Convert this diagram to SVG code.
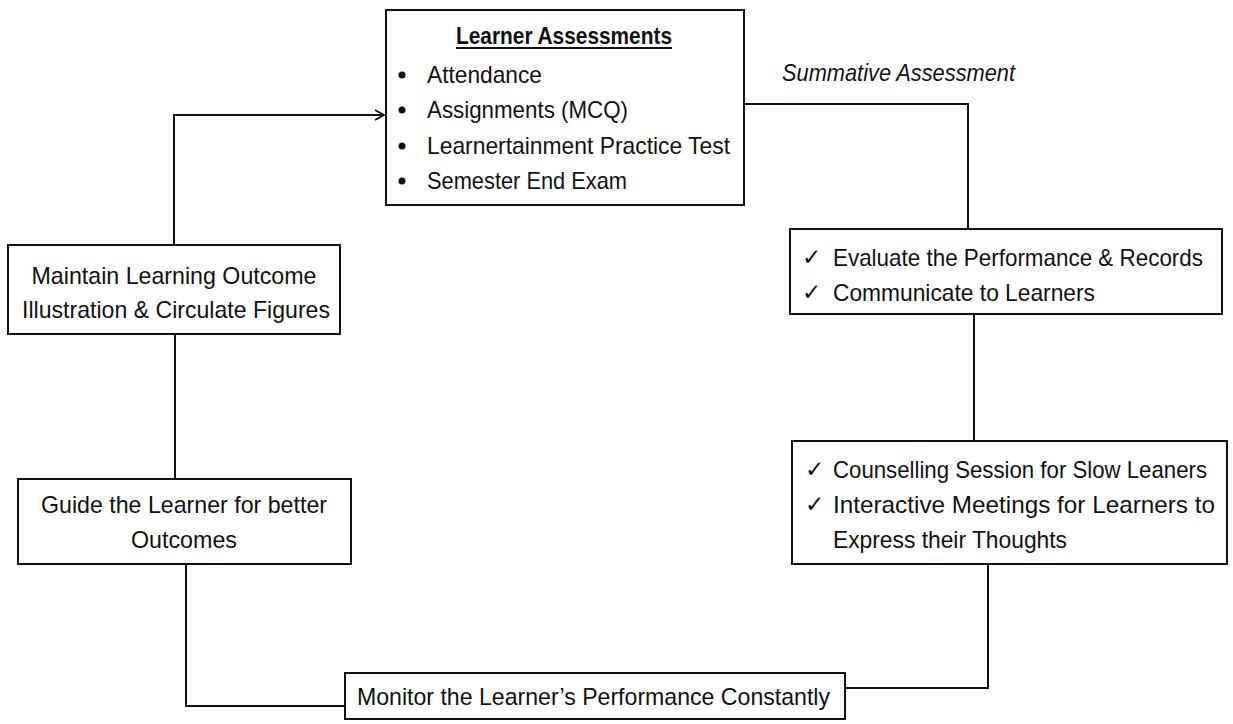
<svg xmlns="http://www.w3.org/2000/svg" width="1233" height="724" viewBox="0 0 1233 724">
<defs>
<style>
.box{fill:#fff;stroke:#111;stroke-width:2}
.con{fill:none;stroke:#111;stroke-width:2}
text{font-family:"Liberation Sans",Arial,sans-serif;font-size:24px;fill:#111}
.c{text-anchor:middle}
.b{font-weight:bold}
.i{font-style:italic}
.chk{font-family:"DejaVu Sans",sans-serif;font-size:23px;font-weight:bold}
</style>
<marker id="arr" markerWidth="12" markerHeight="12" refX="10" refY="6" orient="auto" markerUnits="userSpaceOnUse">
<path d="M1,1 L10,6 L1,11" fill="none" stroke="#111" stroke-width="1.8"/>
</marker>
</defs>
<rect width="1233" height="724" fill="#fff"/>
<g id="connectors">
<path class="con" d="M174,245 V115 H384" marker-end="url(#arr)"/>
<path class="con" d="M744,104 H968 V229"/>
<path class="con" d="M974,314 V441"/>
<path class="con" d="M988,564 V688 H845"/>
<path class="con" d="M345,706 H186 V564"/>
<path class="con" d="M175,479 V334"/>
</g>
<g id="learner-assessments">
<rect class="box" x="386" y="10" width="358" height="195"/>
<text class="b c" x="564" y="44" textLength="216" lengthAdjust="spacingAndGlyphs">Learner Assessments</text>
<line x1="456" y1="48" x2="672" y2="48" stroke="#111" stroke-width="1.8"/>
<circle cx="402" cy="75" r="3.5" fill="#111"/>
<circle cx="402" cy="110" r="3.5" fill="#111"/>
<circle cx="402" cy="146" r="3.5" fill="#111"/>
<circle cx="402" cy="181" r="3.5" fill="#111"/>
<text x="427" y="83" textLength="115" lengthAdjust="spacingAndGlyphs">Attendance</text>
<text x="427" y="118" textLength="201" lengthAdjust="spacingAndGlyphs">Assignments (MCQ)</text>
<text x="427" y="154" textLength="303" lengthAdjust="spacingAndGlyphs">Learnertainment Practice Test</text>
<text x="427" y="189" textLength="200" lengthAdjust="spacingAndGlyphs">Semester End Exam</text>
</g>
<g id="summative-label">
<text class="i" x="782" y="81" textLength="233" lengthAdjust="spacingAndGlyphs">Summative Assessment</text>
</g>
<g id="evaluate">
<rect class="box" x="790" y="229" width="432" height="85"/>
<text class="chk" x="802" y="265">✓</text>
<text class="chk" x="802" y="300">✓</text>
<text x="833" y="266" textLength="370" lengthAdjust="spacingAndGlyphs">Evaluate the Performance &amp; Records</text>
<text x="833" y="301" textLength="262" lengthAdjust="spacingAndGlyphs">Communicate to Learners</text>
</g>
<g id="counselling">
<rect class="box" x="792" y="441" width="435" height="123"/>
<text class="chk" x="805" y="477">✓</text>
<text class="chk" x="805" y="512">✓</text>
<text x="833" y="478" textLength="374" lengthAdjust="spacingAndGlyphs">Counselling Session for Slow Leaners</text>
<text x="833" y="513" textLength="382" lengthAdjust="spacingAndGlyphs">Interactive Meetings for Learners to</text>
<text x="833" y="548" textLength="234" lengthAdjust="spacingAndGlyphs">Express their Thoughts</text>
</g>
<g id="monitor">
<rect class="box" x="345" y="673" width="500" height="46"/>
<text x="357" y="705" textLength="473" lengthAdjust="spacingAndGlyphs">Monitor the Learner’s Performance Constantly</text>
</g>
<g id="guide">
<rect class="box" x="18" y="479" width="333" height="85"/>
<text class="c" x="184" y="513" textLength="286" lengthAdjust="spacingAndGlyphs">Guide the Learner for better</text>
<text class="c" x="184" y="548" textLength="106" lengthAdjust="spacingAndGlyphs">Outcomes</text>
</g>
<g id="maintain">
<rect class="box" x="8" y="245" width="332" height="89"/>
<text class="c" x="174" y="284" textLength="285" lengthAdjust="spacingAndGlyphs">Maintain Learning Outcome</text>
<text class="c" x="176" y="318" textLength="308" lengthAdjust="spacingAndGlyphs">Illustration &amp; Circulate Figures</text>
</g>
</svg>
